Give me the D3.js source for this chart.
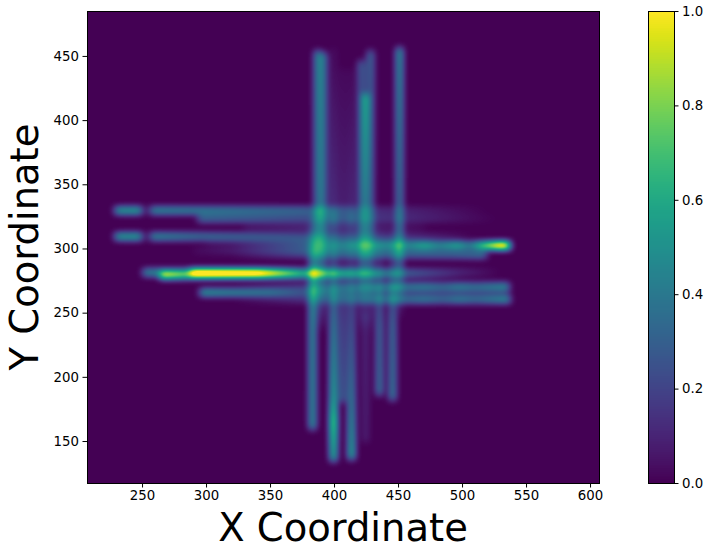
<!DOCTYPE html>
<html>
<head>
<meta charset="utf-8">
<script src="https://cdn.jsdelivr.net/npm/d3@7"></script>
<style>
  html, body { margin: 0; padding: 0; background: #fff; }
  text { font-family: "DejaVu Sans", sans-serif; fill: #000; }
</style>
</head>
<body>
<div id="chart"></div>
<script>
// horizontal streaks: row y, then x knots and the level read at each knot
var hRow = [330, 324, 317, 310, 306, 303, 299, 296, 282, 279, 271, 266, 261];
var hX = [
  [229, 248, 251, 254, 258, 375, 420, 470, 520],
  [294, 375, 440, 490, 528],
  [330, 400, 470],
  [229, 248, 251, 254, 258, 300, 375, 450, 510],
  [300, 375, 450, 500],
  [320, 375, 420, 460, 470, 482, 496, 506, 514, 530, 537],
  [290, 375, 470, 510],
  [320, 375, 440, 490, 518, 519],
  [251, 286, 288, 340, 375, 440, 500, 530],
  [264, 290, 340, 375, 440, 500],
  [320, 375, 440, 470, 485, 497, 510, 536],
  [295, 350, 375, 440, 536],
  [320, 375, 440, 470, 485, 497, 510, 537]
];
var hLevel = [
  [0.42, 0.44, 0.02, 0.02, 0.36, 0.27, 0.12, 0.06, 0],
  [0.26, 0.2, 0.12, 0.05, 0],
  [0.04, 0.1, 0.02],
  [0.42, 0.44, 0.02, 0.02, 0.36, 0.27, 0.18, 0.1, 0],
  [0.03, 0.12, 0.1, 0.02],
  [0, 0.14, 0.3, 0.34, 0.46, 0.34, 0.48, 0.34, 0.6, 1, 0.85],
  [0.02, 0.14, 0.08, 0],
  [0, 0.12, 0.2, 0.24, 0.3, 0],
  [0.36, 0.36, 0.85, 0.82, 0.4, 0.22, 0.08, 0],
  [0.6, 0.36, 0.32, 0.22, 0.12, 0],
  [0, 0.1, 0.26, 0.32, 0.26, 0.33, 0.28, 0.36],
  [0.4, 0.32, 0.2, 0.12, 0.12],
  [0, 0.1, 0.24, 0.32, 0.26, 0.33, 0.28, 0.38]
];

// vertical streaks: column x, then y knots and the level read at each knot
var vCol = [387, 391, 383, 421, 428, 424, 451, 399, 413, 406, 435, 445, 424, 399, 413, 406];
var vY = [
  [235, 280, 350, 454],
  [235, 280, 350, 452],
  [160, 280, 330],
  [235, 280, 350, 446],
  [235, 280, 350, 454],
  [240, 340, 420],
  [245, 290, 350, 456],
  [135, 165, 185, 240, 330],
  [137, 180, 240, 330],
  [181, 240, 330],
  [187, 240, 320],
  [183, 240, 320],
  [150, 250],
  [320, 456],
  [320, 440],
  [320, 440]
];
var vLevel = [
  [0, 0.2, 0.26, 0.3],
  [0, 0.2, 0.26, 0.28],
  [0.36, 0.34, 0],
  [0, 0.18, 0.2, 0.22],
  [0, 0.18, 0.2, 0.24],
  [0, 0.2, 0.32],
  [0, 0.24, 0.28, 0.36],
  [0.42, 0.62, 0.45, 0.32, 0.06],
  [0.44, 0.32, 0.2, 0.05],
  [0.22, 0.16, 0],
  [0.28, 0.24, 0],
  [0.3, 0.26, 0],
  [0.06, 0.08],
  [0.12, 0.02],
  [0.1, 0.02],
  [0.08, 0.02]
];

var xTicks = [250, 300, 350, 400, 450, 500, 550, 600];
var yTicks = [150, 200, 250, 300, 350, 400, 450];
var colorTicks = [0, 0.2, 0.4, 0.6, 0.8, 1];
var xDomain = [207, 607];
var yDomain = [117.3, 485];

var margin = {top: 11, left: 87, bottom: 483, right: 599};
var plotW = margin.right - margin.left;
var plotH = margin.bottom - margin.top;
var halfWidth = 2;      // streaks are 5 pixels across before the blur
var blurRadius = 3;
var streakGain = 0.53;  // height left on a streak after the blur

var x = d3.scaleLinear().domain(xDomain).range([margin.left, margin.right]);
var y = d3.scaleLinear().domain(yDomain).range([margin.bottom, margin.top]);

var svg = d3.select("#chart").append("svg")
    .attr("width", 718)
    .attr("height", 550)
    .style("display", "block");

// accumulate the streaks on a pixel grid, then soften them
var field = new Float64Array(plotW * plotH);

hRow.forEach(function(row, i) {
  var level = d3.scaleLinear().domain(hX[i]).range(hLevel[i]);
  var py = Math.round(y(row)) - margin.top;
  var from = Math.round(x(hX[i][0])) - margin.left;
  var to = Math.round(x(hX[i][hX[i].length - 1])) - margin.left;
  for (var px = from; px <= to; px++) {
    var v = level(x.invert(px + margin.left));
    for (var d = -halfWidth; d <= halfWidth; d++) field[(py + d) * plotW + px] += v;
  }
});

vCol.forEach(function(col, i) {
  var level = d3.scaleLinear().domain(vY[i]).range(vLevel[i]);
  var px = Math.round(x(col)) - margin.left;
  var from = Math.round(y(vY[i][vY[i].length - 1])) - margin.top;
  var to = Math.round(y(vY[i][0])) - margin.top;
  for (var py = from; py <= to; py++) {
    var v = level(y.invert(py + margin.top));
    for (var d = -halfWidth; d <= halfWidth; d++) field[py * plotW + px + d] += v;
  }
});

d3.blur2({data: field, width: plotW, height: plotH}, blurRadius);

var colorScale = d3.scaleSequential(d3.interpolateViridis).domain([0, 1]).clamp(true);

var canvas = document.createElement("canvas");
canvas.width = plotW;
canvas.height = plotH;
var ctx = canvas.getContext("2d");
var img = ctx.createImageData(plotW, plotH);
for (var k = 0; k < field.length; k++) {
  var c = d3.rgb(colorScale(field[k] / streakGain));
  img.data[k * 4] = c.r;
  img.data[k * 4 + 1] = c.g;
  img.data[k * 4 + 2] = c.b;
  img.data[k * 4 + 3] = 255;
}
ctx.putImageData(img, 0, 0);

svg.append("image")
    .attr("x", margin.left)
    .attr("y", margin.top)
    .attr("width", plotW)
    .attr("height", plotH)
    .attr("href", canvas.toDataURL());

var xAxis = d3.axisBottom(x).tickValues(xTicks).tickSize(4.5).tickPadding(3.5).tickFormat(d3.format("d"));
var yAxis = d3.axisLeft(y).tickValues(yTicks).tickSize(4.5).tickPadding(3.5).tickFormat(d3.format("d"));

var gx = svg.append("g")
    .attr("transform", "translate(0," + margin.bottom + ")")
    .call(xAxis);
var gy = svg.append("g")
    .attr("transform", "translate(" + margin.left + ",0)")
    .call(yAxis);

svg.append("rect")
    .attr("x", margin.left + 0.5)
    .attr("y", margin.top + 0.5)
    .attr("width", plotW)
    .attr("height", plotH)
    .attr("fill", "none")
    .attr("stroke", "#000");

// colorbar
var cbX = 648, cbW = 26;
var cbScale = d3.scaleLinear().domain([0, 1]).range([margin.bottom, margin.top]);

svg.append("g").selectAll("rect")
    .data(d3.range(margin.top, margin.bottom))
    .enter()
    .append("rect")
    .attr("x", cbX)
    .attr("y", function(d) { return d; })
    .attr("width", cbW)
    .attr("height", 1)
    .attr("fill", function(d) { return colorScale(cbScale.invert(d + 0.5)); });

svg.append("rect")
    .attr("x", cbX + 0.5)
    .attr("y", margin.top + 0.5)
    .attr("width", cbW)
    .attr("height", plotH)
    .attr("fill", "none")
    .attr("stroke", "#000");

var gc = svg.append("g")
    .attr("transform", "translate(" + (cbX + cbW) + ",0)")
    .call(d3.axisRight(cbScale).tickValues(colorTicks).tickSize(4.5).tickPadding(3.5).tickFormat(d3.format(".1f")));

[gx, gy, gc].forEach(function(g) {
  g.select(".domain").remove();
  g.selectAll("text").style("font-size", "13.3px").style("font-family", "'DejaVu Sans'");
});

svg.append("text")
    .attr("x", 343)
    .attr("y", 541)
    .attr("text-anchor", "middle")
    .style("font-size", "38.5px")
    .text("X Coordinate");

svg.append("text")
    .attr("transform", "translate(38,247) rotate(-90)")
    .attr("text-anchor", "middle")
    .style("font-size", "38.5px")
    .text("Y Coordinate");
</script>
</body>
</html>
